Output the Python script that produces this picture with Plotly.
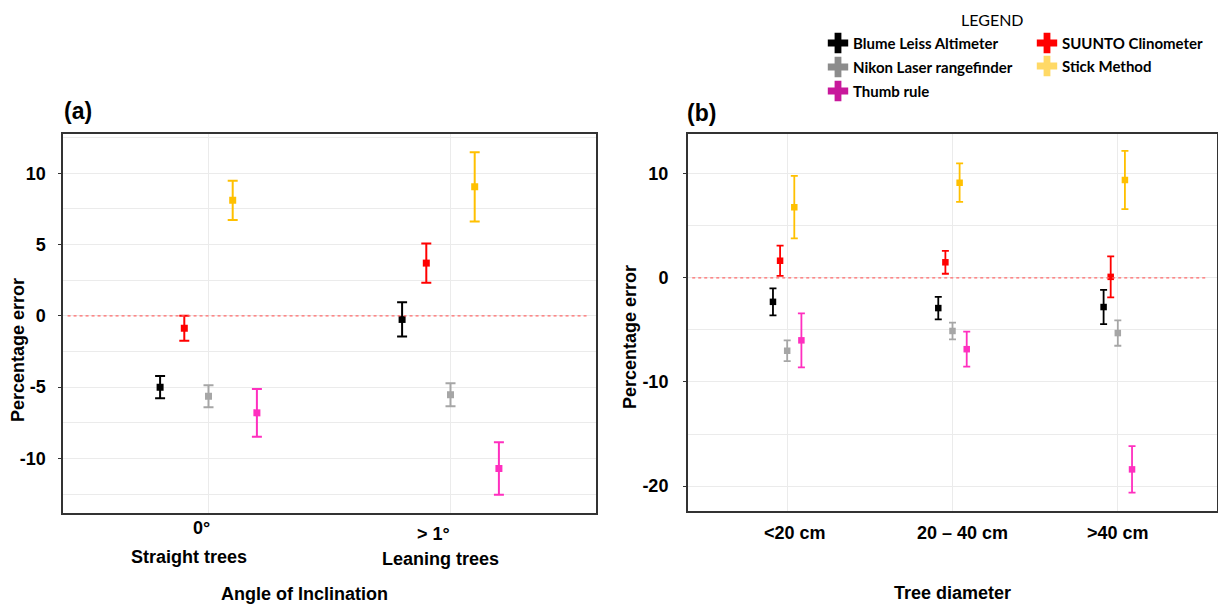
import plotly.graph_objects as go

W, H = 1218, 605

# ---------------- data ----------------
series_names = ["Blume Leiss Altimeter", "SUUNTO Clinometer", "Nikon Laser rangefinder",
                "Stick Method", "Thumb rule"]
plot_colors = ["#000000", "#ff0000", "#a6a6a6", "#ffc000", "#ff2fbf"]
legend_colors = ["#000000", "#ff0000", "#8c8c8c", "#ffd966", "#c8189b"]

angle_categories = ["0°", "> 1°"]
angle_groups = ["Straight trees", "Leaning trees"]
diameter_categories = ["<20 cm", "20 – 40 cm", ">40 cm"]

angle_yticks = [-10, -5, 0, 5, 10]
angle_yticklabels = ["-10", "-5", "0", "5", "10"]
diam_yticks = [-20, -10, 0, 10]
diam_yticklabels = ["-20", "-10", "0", "10"]

# (a) Angle of inclination: mean percentage error and error-bar half-length
blume_angle = [-5.0, -0.25]
blume_angle_err = [0.78, 1.2]
suunto_angle = [-0.87, 3.7]
suunto_angle_err = [0.87, 1.37]
nikon_angle = [-5.63, -5.53]
nikon_angle_err = [0.77, 0.8]
stick_angle = [8.1, 9.05]
stick_angle_err = [1.38, 2.43]
thumb_angle = [-6.8, -10.7]
thumb_angle_err = [1.67, 1.84]

# (b) Tree diameter
blume_diam = [-2.3, -2.9, -2.8]
blume_diam_err = [1.3, 1.08, 1.65]
suunto_diam = [1.65, 1.5, 0.1]
suunto_diam_err = [1.45, 1.1, 1.97]
nikon_diam = [-7.0, -5.1, -5.3]
nikon_diam_err = [1.0, 0.8, 1.22]
stick_diam = [6.8, 9.15, 9.4]
stick_diam_err = [3.0, 1.85, 2.8]
thumb_diam = [-6.0, -6.85, -18.4]
thumb_diam_err = [2.6, 1.68, 2.24]

angle_vals = [blume_angle, suunto_angle, nikon_angle, stick_angle, thumb_angle]
angle_errs = [blume_angle_err, suunto_angle_err, nikon_angle_err, stick_angle_err, thumb_angle_err]
diam_vals = [blume_diam, suunto_diam, nikon_diam, stick_diam, thumb_diam]
diam_errs = [blume_diam_err, suunto_diam_err, nikon_diam_err, stick_diam_err, thumb_diam_err]

# ---------------- styling / layout constants ----------------
FONT = "Liberation Sans"
LFONT = "Lato"
GRID = "#ebebeb"
AXLINE = "#333333"
dodge_a = [-0.2, -0.1, 0.0, 0.1, 0.2]
dodge_b = [-0.086, -0.043, 0.0, 0.043, 0.086]


def px(x):
    return x / W


def py(y):
    return 1 - y / H


fig = go.Figure()

for i, name in enumerate(series_names):
    fig.add_trace(go.Scatter(
        x=[k + dodge_a[i] for k in range(len(angle_categories))],
        y=angle_vals[i],
        error_y=dict(type="data", array=angle_errs[i], visible=True,
                     color=plot_colors[i], thickness=2, width=5),
        mode="markers", marker=dict(symbol="square", size=7, color=plot_colors[i]),
        name=name, showlegend=False, xaxis="x", yaxis="y"))
    fig.add_trace(go.Scatter(
        x=[k + dodge_b[i] for k in range(len(diameter_categories))],
        y=diam_vals[i],
        error_y=dict(type="data", array=diam_errs[i], visible=True,
                     color=plot_colors[i], thickness=1.8, width=3.5),
        mode="markers", marker=dict(symbol="square", size=6.5, color=plot_colors[i]),
        name=name, showlegend=False, xaxis="x2", yaxis="y2"))

# custom legend (markers on an overlay axis in the top strip, text as annotations)
LEG_TOP, LEG_BOT = 0, 110
legend_pos = [(838, 43), (1047, 43), (838, 67), (1047, 66), (838, 91)]
for i, name in enumerate(series_names):
    lx, ly = legend_pos[i]
    fig.add_trace(go.Scatter(
        x=[lx], y=[ly], mode="markers",
        marker=dict(symbol="cross", size=17, color=legend_colors[i], line=dict(width=0)),
        showlegend=False, hoverinfo="skip", xaxis="x3", yaxis="y3"))

tickfont = dict(family=FONT, size=18, color="#000000", weight="bold")

common_x = dict(showgrid=True, gridcolor=GRID, gridwidth=1.3, zeroline=False,
                showline=True, linecolor=AXLINE, linewidth=2, mirror=True,
                showticklabels=False, ticks="", fixedrange=True)
common_y = dict(showgrid=True, gridcolor=GRID, gridwidth=1.3, zeroline=False,
                showline=True, linecolor=AXLINE, linewidth=2, mirror=True,
                ticks="outside", ticklen=3, tickcolor=AXLINE, tickwidth=1,
                tickfont=tickfont, fixedrange=True)

fig.update_layout(
    width=W, height=H, margin=dict(l=0, r=0, t=0, b=0),
    paper_bgcolor="white", plot_bgcolor="rgba(0,0,0,0)", showlegend=False,
    xaxis=dict(domain=[px(63.3), px(595.7)], range=[-0.6, 1.6],
               tickvals=list(range(len(angle_categories))), anchor="y", **common_x),
    yaxis=dict(domain=[py(512.7), py(134.3)], range=[-13.8, 12.73],
               tickvals=angle_yticks, ticktext=angle_yticklabels, ticklabelstandoff=9,
               minor=dict(dtick=2.5, tick0=0, showgrid=True, gridcolor=GRID, gridwidth=1.3),
               anchor="x", **common_y),
    xaxis2=dict(domain=[px(688), px(1217)], range=[-0.6, 2.6],
                tickvals=list(range(len(diameter_categories))), anchor="y2", **common_x),
    yaxis2=dict(domain=[py(511), py(134.3)], range=[-22.4, 13.8],
                tickvals=diam_yticks, ticktext=diam_yticklabels, ticklabelstandoff=11,
                minor=dict(dtick=5, tick0=0, showgrid=True, gridcolor=GRID, gridwidth=1.3),
                anchor="x2", **common_y),
    xaxis3=dict(domain=[0, 1], range=[0, W], visible=False, fixedrange=True),
    yaxis3=dict(domain=[py(LEG_BOT), py(LEG_TOP)], range=[LEG_BOT, LEG_TOP],
                visible=False, fixedrange=True, anchor="x3"),
)

# dotted zero reference lines
for xr, yr in (("x domain", "y"), ("x2 domain", "y2")):
    fig.add_shape(type="line", xref=xr, yref=yr, x0=0.008, x1=0.983, y0=0, y1=0,
                  line=dict(color="#ff6a6a", width=1.2, dash="dot"), layer="above")

ann = []


def text(x, y, s, size=18, weight="bold", family=FONT, angle=0, xanchor="center", color="#000"):
    ann.append(dict(x=px(x), y=py(y), xref="paper", yref="paper", text=s, showarrow=False,
                    xanchor=xanchor, yanchor="middle", textangle=angle,
                    font=dict(family=family, size=size, color=color, weight=weight)))


text(78, 111, "(a)", size=23)
text(701, 113, "(b)", size=23)

angle_tick_px = [(201.7, 528), (433, 534)]
angle_group_px = [(189, 557), (440, 559)]
for i in range(len(angle_categories)):
    text(*angle_tick_px[i], angle_categories[i])
    text(*angle_group_px[i], angle_groups[i])
text(304, 594, "Angle of Inclination")

diam_tick_px = [(795, 533), (962, 533), (1118, 533)]
for i in range(len(diameter_categories)):
    text(*diam_tick_px[i], diameter_categories[i])
text(952, 593, "Tree diameter")

text(18, 350, "Percentage error", angle=-90)
text(630, 337, "Percentage error", angle=-90)

text(992, 19, "LEGEND", size=16, weight="normal", family=LFONT)
for i, name in enumerate(series_names):
    lx, ly = legend_pos[i]
    text(lx + 13, ly, name, size=15, weight="bold", family=LFONT, xanchor="left")

fig.update_layout(annotations=ann)

fig.write_html("out.html")
